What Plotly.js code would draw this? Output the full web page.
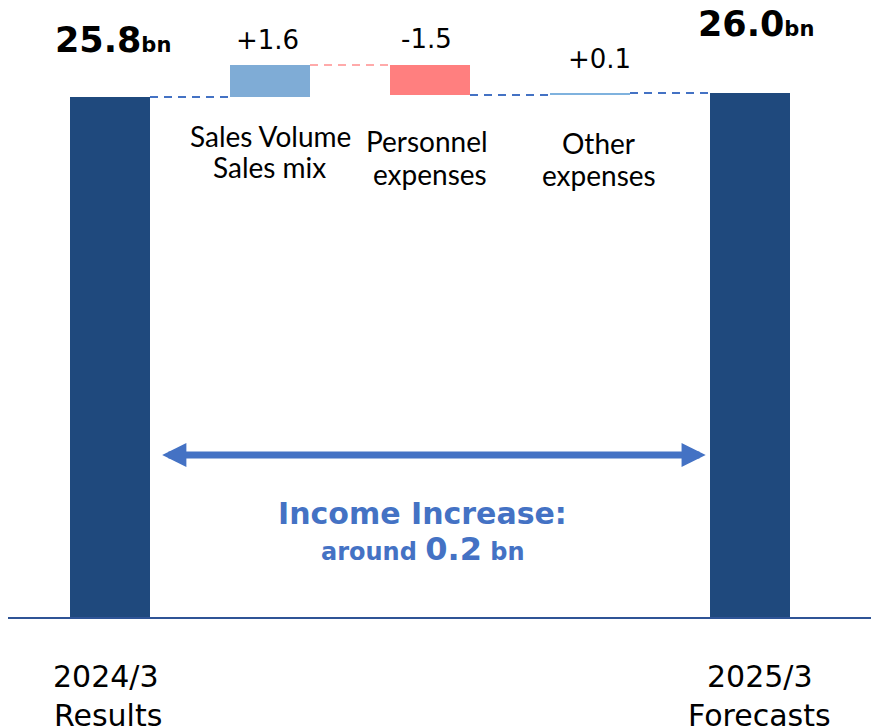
<!DOCTYPE html>
<html><head><meta charset="utf-8">
<script src="https://cdn.plot.ly/plotly-3.0.1.min.js"></script>
<style>html,body{margin:0;padding:0;background:#fff;} #chart{width:871px;height:728px;}</style>
</head><body><div id="chart"></div>
<script>
// ---- data ----
const categories = ['2024/3 Results', 'Sales Volume / Sales mix', 'Personnel expenses', 'Other expenses', '2025/3 Forecasts'];
const measures = ['absolute', 'relative', 'relative', 'relative', 'total'];
const values = [25.8, 1.6, -1.5, 0.1, 26.0];
const valueLabels = ['25.8', '+1.6', '-1.5', '+0.1', '26.0'];
const itemLabelLine1 = ['', 'Sales Volume', 'Personnel', 'Other', ''];
const itemLabelLine2 = ['', 'Sales mix', 'expenses', 'expenses', ''];
const axisLabelLine1 = ['2024/3', '', '', '', '2025/3'];
const axisLabelLine2 = ['Results', '', '', '', 'Forecasts'];
const unitLabel = 'bn';
const incomeTitle = 'Income Increase:';
const incomeValue = '0.2';

// ---- styles ----
const barColors = ['#1F497D', '#7FACD6', '#FF7F7F', '#7FB2DE', '#1F497D'];
const blue = '#4472C4';
const pinkDash = '#FFAAAA';
const barWidth = 0.5;
const valueShift = [{x: 2.5, y: 57.5}, {x: -2.5, y: 24.5}, {x: -3.5, y: 25.5}, {x: 9, y: 34.5}, {x: 6, y: 69.5}];
const itemShift1 = [0, {x: 0, y: -39}, {x: -3, y: -46}, {x: 8.5, y: -48}, 0];
const itemShift2 = [0, {x: -1, y: -70}, {x: 0, y: -79}, {x: 8.5, y: -80}, 0];
const axisShift1 = [{x: -4, y: -59}, 0, 0, 0, {x: 10, y: -59}];
const axisShift2 = [{x: -2, y: -98}, 0, 0, 0, {x: 9.5, y: -98}];
const narrow = 'Liberation Sans Narrow, Lato, sans-serif';
const dejavu = 'DejaVu Sans, Verdana, sans-serif';

// ---- compute waterfall geometry from data ----
const xs = categories.map((c, i) => i);
const bases = [], heights = [], tops = [], levels = [];
let cum = 0;
values.forEach((v, i) => {
  if (measures[i] === 'relative') {
    const start = cum; cum = +(cum + v).toFixed(6);
    bases.push(Math.min(start, cum)); heights.push(Math.abs(v)); tops.push(Math.max(start, cum));
  } else {
    cum = v; bases.push(0); heights.push(v); tops.push(v);
  }
  levels.push(cum);
});

const trace = {
  type: 'bar', x: xs, y: heights, base: bases, width: barWidth,
  marker: {color: barColors, line: {width: 0}},
  hoverinfo: 'skip', showlegend: false
};

// connectors
const shapes = [];
for (let i = 0; i < values.length - 1; i++) {
  const nextNeg = measures[i + 1] === 'relative' && values[i + 1] < 0;
  shapes.push({
    type: 'line', xref: 'x', yref: 'y',
    x0: xs[i] + barWidth / 2, x1: xs[i + 1] - barWidth / 2,
    y0: levels[i], y1: levels[i],
    line: {color: nextNeg ? pinkDash : blue, width: 2, dash: '8px,6px'}
  });
}

const annotations = [];
values.forEach((v, i) => {
  const isTotal = measures[i] !== 'relative';
  annotations.push({
    x: xs[i], y: tops[i], xref: 'x', yref: 'y', showarrow: false,
    xanchor: 'center', yanchor: 'middle', xshift: valueShift[i].x, yshift: valueShift[i].y,
    text: isTotal ? '<b>' + valueLabels[i] + '<span style="font-size:21px">' + unitLabel + '</span></b>' : valueLabels[i],
    font: {family: dejavu, size: isTotal ? 35 : 26, color: '#000000'}
  });
  if (itemLabelLine1[i]) {
    annotations.push({
      x: xs[i], y: bases[i], xref: 'x', yref: 'y', showarrow: false,
      xanchor: 'center', yanchor: 'middle', xshift: itemShift1[i].x, yshift: itemShift1[i].y,
      text: itemLabelLine1[i], font: {family: narrow, size: 28, color: '#000000'}
    });
    annotations.push({
      x: xs[i], y: bases[i], xref: 'x', yref: 'y', showarrow: false,
      xanchor: 'center', yanchor: 'middle', xshift: itemShift2[i].x, yshift: itemShift2[i].y,
      text: itemLabelLine2[i], font: {family: narrow, size: 28, color: '#000000'}
    });
  }
  if (axisLabelLine1[i]) {
    annotations.push({
      x: xs[i], y: 0, xref: 'x', yref: 'y', showarrow: false,
      xanchor: 'center', yanchor: 'middle', xshift: axisShift1[i].x, yshift: axisShift1[i].y,
      text: axisLabelLine1[i], font: {family: dejavu, size: 30, color: '#000000'}
    });
    annotations.push({
      x: xs[i], y: 0, xref: 'x', yref: 'y', showarrow: false,
      xanchor: 'center', yanchor: 'middle', xshift: axisShift2[i].x, yshift: axisShift2[i].y,
      text: axisLabelLine2[i], font: {family: dejavu, size: 30, color: '#000000'}
    });
  }
});

const first = 0, last = values.length - 1, mid = (first + last) / 2;
annotations.push({
  x: xs[last] - barWidth / 2, y: 0, ax: xs[first] + barWidth / 2, ay: 0,
  xref: 'x', yref: 'y', axref: 'x', ayref: 'y', yshift: 162,
  text: '', showarrow: true, arrowside: 'end+start',
  arrowhead: 2, startarrowhead: 2, arrowsize: 0.69, startarrowsize: 0.69,
  arrowwidth: 7, arrowcolor: blue, standoff: 4.3, startstandoff: 10.7
});
annotations.push({
  x: xs[mid], y: 0, xref: 'x', yref: 'y', showarrow: false,
  xanchor: 'center', yanchor: 'middle', xshift: -7.5, yshift: 104,
  text: '<b>' + incomeTitle + '</b>', font: {family: dejavu, size: 30, color: blue}
});
annotations.push({
  x: xs[mid], y: 0, xref: 'x', yref: 'y', showarrow: false,
  xanchor: 'center', yanchor: 'middle', xshift: -7, yshift: 68.5,
  text: '<b><span style="font-size:24px">around </span>' + incomeValue + '<span style="font-size:24px"> ' + unitLabel + '</span></b>',
  font: {family: dejavu, size: 32, color: blue}
});

const layout = {
  width: 871, height: 728,
  margin: {l: 8, r: 0, t: 0, b: 111, pad: 0},
  paper_bgcolor: '#ffffff', plot_bgcolor: '#ffffff',
  showlegend: false, hovermode: false,
  xaxis: {range: [-0.6375, 4.75625], showgrid: false, zeroline: false, showticklabels: false,
          ticks: '', showline: true, linecolor: '#2F5496', linewidth: 2, fixedrange: true},
  yaxis: {range: [0, 30.62], showgrid: false, zeroline: false, showticklabels: false,
          ticks: '', showline: false, fixedrange: true},
  shapes: shapes, annotations: annotations
};

Plotly.newPlot('chart', [trace], layout, {staticPlot: true, displayModeBar: false});
</script></body></html>
